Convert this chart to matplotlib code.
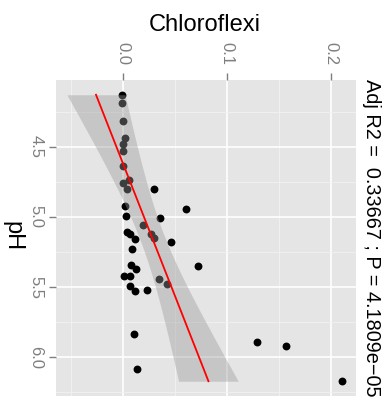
import matplotlib
matplotlib.use('Agg')
import matplotlib.pyplot as plt
import numpy as np

plt.rcParams['font.family'] = ['Liberation Sans', 'DejaVu Sans']

ph = [4.13, 4.19, 4.32, 4.44, 4.48, 4.53, 4.64, 4.74, 4.76, 4.80,
      4.80, 4.92, 4.94, 4.99, 5.01, 5.06, 5.11, 5.12, 5.12, 5.15,
      5.16, 5.18, 5.23, 5.34, 5.37, 5.35, 5.42, 5.42, 5.44, 5.48,
      5.49, 5.53, 5.52, 5.83, 6.08, 5.89, 5.92, 6.17]
chloroflexi = [-0.0006, -0.001, 0.0, 0.002, 0.0, 0.0003, 0.0003, 0.0055, 0.0, 0.004,
               0.0298, 0.0022, 0.0603, 0.0026, 0.0359, 0.0195, 0.0042, 0.0067, 0.0266, 0.0301,
               0.0119, 0.0462, 0.0087, 0.0077, 0.0128, 0.0718, 0.0013, 0.0071, 0.0349, 0.042,
               0.0064, 0.0115, 0.0234, 0.0106, 0.0132, 0.129, 0.157, 0.211]
title = 'Adj R2 =  0.33667 ; P = 4.1809e\u221205'
x_ticks = [0.0, 0.1, 0.2]
y_ticks = [4.5, 5.0, 5.5, 6.0]

x = np.array(ph)
y = np.array(chloroflexi)

# linear fit with 95% confidence band (like geom_smooth(method='lm'))
b, a = np.polyfit(x, y, 1)
n = len(x)
resid = y - (a + b * x)
s = np.sqrt(np.sum(resid ** 2) / (n - 2))
t_crit = 2.026  # t(0.975, df=36)
xs = np.linspace(x.min(), x.max(), 80)
fit = a + b * xs
se = s * np.sqrt(1 / n + (xs - x.mean()) ** 2 / np.sum((x - x.mean()) ** 2))

fig = plt.figure(figsize=(3.91, 3.98), dpi=100)
ax = fig.add_axes([56 / 391, 2 / 398, 300 / 391, 316 / 398])
ax.set_facecolor('#E5E5E5')

ax.scatter(y, x, s=32, color='black', zorder=3, linewidths=0)
ax.fill_betweenx(xs, fit - t_crit * se, fit + t_crit * se,
                 color='#999999', alpha=0.4, linewidth=0, zorder=4)
ax.plot(fit, xs, color='red', linewidth=1.3, zorder=5)

ax.set_xlim(-0.0644, 0.224)
ax.set_ylim(6.275, 4.025)

ax.set_xticks(x_ticks)
ax.set_xticklabels(['%.1f' % v for v in x_ticks])
ax.set_yticks(y_ticks)
ax.set_yticklabels(['%.1f' % v for v in y_ticks])
ax.set_xticks([-0.05, 0.05, 0.15], minor=True)
ax.set_yticks([4.25, 4.75, 5.25, 5.75, 6.25], minor=True)
ax.grid(True, which='major', color='white', linewidth=1.2)
ax.grid(True, which='minor', color='#F2F2F2', linewidth=0.6)
ax.set_axisbelow(True)

ax.xaxis.tick_top()
ax.tick_params(axis='both', which='major', length=5, width=1, color='#7F7F7F',
               labelcolor='#7F7F7F', labelsize=12)
ax.tick_params(axis='x', pad=6, labelrotation=270)
ax.tick_params(axis='y', pad=4, labelrotation=270)
ax.tick_params(which='minor', length=0)
for lab in ax.get_yticklabels():
    lab.set_va('center')
for sp in ax.spines.values():
    sp.set_visible(False)

fig.text(205 / 391, 1 - 25 / 398, 'Chloroflexi', fontsize=17,
         ha='center', va='center')
fig.text(12 / 391, 1 - 236 / 398, 'pH', fontsize=17, rotation=270,
         ha='center', va='center')
fig.text(372 / 391, 1 - 79 / 398, title, fontsize=14.3, rotation=270,
         ha='center', va='top')

fig.savefig('out.png', dpi=100)
